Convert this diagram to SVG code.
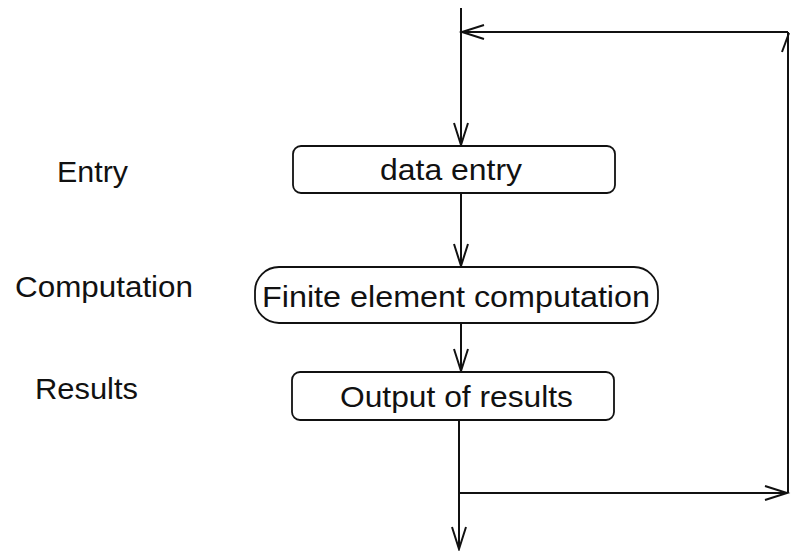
<svg xmlns="http://www.w3.org/2000/svg" width="791" height="551" viewBox="0 0 791 551">
<defs>
<style>
.box{fill:#fff;stroke:#111;stroke-width:1.8}
.ln{fill:none;stroke:#111;stroke-width:2}
.t{font-family:"Liberation Sans",Arial,sans-serif;font-size:29px;fill:#111}
</style>
<marker id="ah" markerUnits="userSpaceOnUse" markerWidth="30" markerHeight="20" viewBox="-24 -10 26 20" refX="0" refY="0" orient="auto">
<path d="M-22,-7 L0,0 L-22,7" fill="none" stroke="#111" stroke-width="2"/>
</marker>
</defs>
<rect width="791" height="551" fill="#fff"/>
<g id="connectors">
<path class="ln" d="M461,8 L461,145" marker-end="url(#ah)"/>
<path class="ln" d="M461,193 L461,266" marker-end="url(#ah)"/>
<path class="ln" d="M461,323 L461,371" marker-end="url(#ah)"/>
<path class="ln" d="M459,420 L459,549" marker-end="url(#ah)"/>
<path class="ln" d="M459,493 L787,493" marker-end="url(#ah)"/>
<path class="ln" d="M788,493 L788,32"/>
<path class="ln" d="M782,52 L789,33"/>
<path class="ln" d="M788,32 L462,32" marker-end="url(#ah)"/>
</g>
<g id="label-entry"><text class="t" x="57" y="182" textLength="71" lengthAdjust="spacingAndGlyphs">Entry</text></g>
<g id="label-computation"><text class="t" x="15" y="297" textLength="178" lengthAdjust="spacingAndGlyphs">Computation</text></g>
<g id="label-results"><text class="t" x="35" y="399" textLength="103" lengthAdjust="spacingAndGlyphs">Results</text></g>
<g id="node-data-entry">
<rect class="box" x="293" y="146" width="322" height="47" rx="8"/>
<text class="t" x="380" y="180" textLength="142" lengthAdjust="spacingAndGlyphs">data entry</text>
</g>
<g id="node-fem">
<rect class="box" x="255" y="267" width="403" height="56" rx="24"/>
<text class="t" x="262" y="307" textLength="388" lengthAdjust="spacingAndGlyphs">Finite element computation</text>
</g>
<g id="node-output">
<rect class="box" x="292" y="372" width="322" height="48" rx="8"/>
<text class="t" x="340" y="407" textLength="233" lengthAdjust="spacingAndGlyphs">Output of results</text>
</g>
</svg>
